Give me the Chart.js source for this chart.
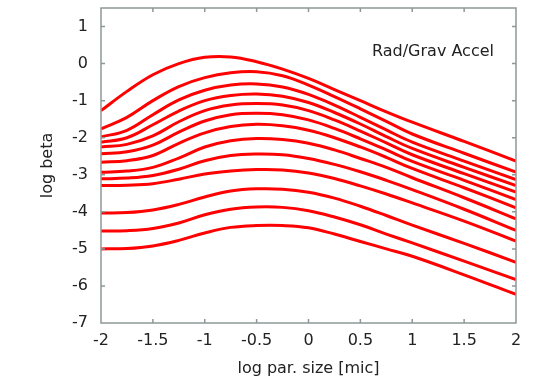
<!DOCTYPE html>
<html lang="en">
<head>
  <meta charset="UTF-8" />
  <title>Rad/Grav Accel</title>
  <script src="https://cdn.jsdelivr.net/npm/chart.js"></script>
  <style>
    * { box-sizing: border-box; margin: 0; padding: 0; }
    body { background: #fff; width: 534px; height: 382px; overflow: hidden; }
    #chart { display: block; }
  </style>
</head>
<body>
  <canvas id="chart" width="534" height="382"></canvas>

  <script>
    // log particle size [micron] sample positions
    const sizes = [-2, -1.75, -1.5, -1.25, -1, -0.75, -0.5, -0.25, 0, 0.25, 0.5, 0.75, 1, 1.5, 2];

    // log beta, one array per curve (top to bottom)
    const curve1  = [-1.27, -0.75, -0.30,  0.00,  0.17,  0.18,  0.05, -0.15, -0.40, -0.70, -1.00, -1.30, -1.58, -2.10, -2.63];
    const curve2  = [-1.76, -1.45, -1.00, -0.62, -0.38, -0.25, -0.22, -0.33, -0.58, -0.89, -1.22, -1.56, -1.90, -2.42, -2.93];
    const curve3  = [-1.98, -1.80, -1.38, -0.98, -0.72, -0.58, -0.55, -0.63, -0.83, -1.12, -1.45, -1.79, -2.12, -2.63, -3.13];
    const curve4  = [-2.12, -2.00, -1.65, -1.28, -1.00, -0.86, -0.82, -0.88, -1.05, -1.32, -1.63, -1.97, -2.29, -2.80, -3.29];
    const curve5  = [-2.25, -2.18, -1.95, -1.57, -1.27, -1.12, -1.08, -1.12, -1.27, -1.52, -1.82, -2.14, -2.46, -2.97, -3.47];
    const curve6  = [-2.43, -2.38, -2.20, -1.85, -1.55, -1.38, -1.34, -1.38, -1.52, -1.75, -2.03, -2.33, -2.64, -3.15, -3.67];
    const curve7  = [-2.66, -2.62, -2.48, -2.15, -1.87, -1.70, -1.64, -1.68, -1.80, -2.00, -2.25, -2.53, -2.83, -3.35, -3.89];
    const curve8  = [-2.93, -2.90, -2.80, -2.55, -2.25, -2.08, -2.02, -2.05, -2.15, -2.33, -2.56, -2.80, -3.08, -3.62, -4.19];
    const curve9  = [-3.11, -3.09, -3.02, -2.85, -2.62, -2.48, -2.44, -2.46, -2.56, -2.72, -2.92, -3.15, -3.40, -3.93, -4.50];
    const curve10 = [-3.29, -3.28, -3.24, -3.12, -2.98, -2.90, -2.86, -2.87, -2.95, -3.10, -3.30, -3.52, -3.76, -4.25, -4.79];
    const curve11 = [-4.03, -4.02, -3.95, -3.80, -3.60, -3.44, -3.38, -3.39, -3.47, -3.63, -3.85, -4.10, -4.36, -4.85, -5.36];
    const curve12 = [-4.52, -4.51, -4.45, -4.30, -4.08, -3.93, -3.87, -3.88, -3.97, -4.14, -4.35, -4.60, -4.84, -5.33, -5.83];
    const curve13 = [-5.00, -4.99, -4.92, -4.77, -4.57, -4.42, -4.37, -4.37, -4.43, -4.60, -4.80, -5.00, -5.20, -5.70, -6.23];

    const curves = [curve1, curve2, curve3, curve4, curve5, curve6, curve7,
                    curve8, curve9, curve10, curve11, curve12, curve13];

    const xTicks = [-2, -1.5, -1, -0.5, 0, 0.5, 1, 1.5, 2];
    const yTicks = [-7, -6, -5, -4, -3, -2, -1, 0, 1];

    const font = "'DejaVu Sans', sans-serif";
    const textColor = '#222';
    const frameColor = '#8f9898';

    // gnuplot style frame: box all round, ticks pointing inwards, plus the label
    const framePlugin = {
      id: 'frame',
      afterDraw(chart) {
        const ctx = chart.ctx;
        const a = chart.chartArea;
        const x = chart.scales.x, y = chart.scales.y;
        ctx.save();
        ctx.setLineDash([]);
        ctx.globalAlpha = 1;
        ctx.strokeStyle = frameColor;
        ctx.lineWidth = 1.5;
        ctx.beginPath();
        ctx.rect(a.left, a.top, a.right - a.left, a.bottom - a.top);
        xTicks.forEach(v => {
          const px = x.getPixelForValue(v);
          ctx.moveTo(px, a.bottom); ctx.lineTo(px, a.bottom - 4);
          ctx.moveTo(px, a.top); ctx.lineTo(px, a.top + 4);
        });
        yTicks.forEach(v => {
          const py = y.getPixelForValue(v);
          ctx.moveTo(a.left, py); ctx.lineTo(a.left + 4, py);
          ctx.moveTo(a.right, py); ctx.lineTo(a.right - 4, py);
        });
        ctx.stroke();

        ctx.fillStyle = textColor;
        ctx.font = '16px ' + font;
        ctx.textAlign = 'right';
        ctx.textBaseline = 'middle';
        ctx.fillText('Rad/Grav Accel', 494, 52);
        ctx.restore();
      }
    };

    const datasets = curves.map((c, i) => ({
      label: 'curve ' + (i + 1),
      data: sizes.map((s, j) => ({ x: s, y: c[j] })),
      borderColor: '#ff0000',
      borderWidth: 3,
      pointRadius: 0,
      fill: false,
      tension: 0.4
    }));

    new Chart(document.getElementById('chart'), {
      type: 'line',
      data: { datasets },
      options: {
        responsive: false,
        animation: false,
        layout: { padding: { left: 0, right: 18, top: 8, bottom: 0 } },
        plugins: { legend: { display: false }, tooltip: { enabled: false } },
        scales: {
          x: {
            type: 'linear',
            min: -2, max: 2,
            afterBuildTicks: s => { s.ticks = xTicks.map(v => ({ value: v })); },
            afterFit: s => { s.height = 59; s.paddingLeft = 0; s.paddingRight = 0; },
            grid: { display: false, drawTicks: false },
            border: { display: false },
            ticks: {
              padding: 8,
              color: textColor,
              font: { family: font, size: 16 },
              maxRotation: 0,
              callback: v => String(v)
            },
            title: {
              display: true,
              text: 'log par. size [mic]',
              color: textColor,
              font: { family: font, size: 16 },
              padding: { top: 0, bottom: 4 }
            }
          },
          y: {
            min: -7, max: 1.5,
            afterBuildTicks: s => { s.ticks = yTicks.map(v => ({ value: v })); },
            afterFit: s => { s.width = 101; s.paddingTop = 0; s.paddingBottom = 0; },
            grid: { display: false, drawTicks: false },
            border: { display: false },
            ticks: {
              padding: 13,
              color: textColor,
              font: { family: font, size: 16 },
              callback: v => String(v)
            },
            title: {
              display: true,
              text: 'log beta',
              color: textColor,
              font: { family: font, size: 16 },
              padding: { top: 38, bottom: 0 }
            }
          }
        }
      },
      plugins: [framePlugin]
    });
  </script>
</body>
</html>
